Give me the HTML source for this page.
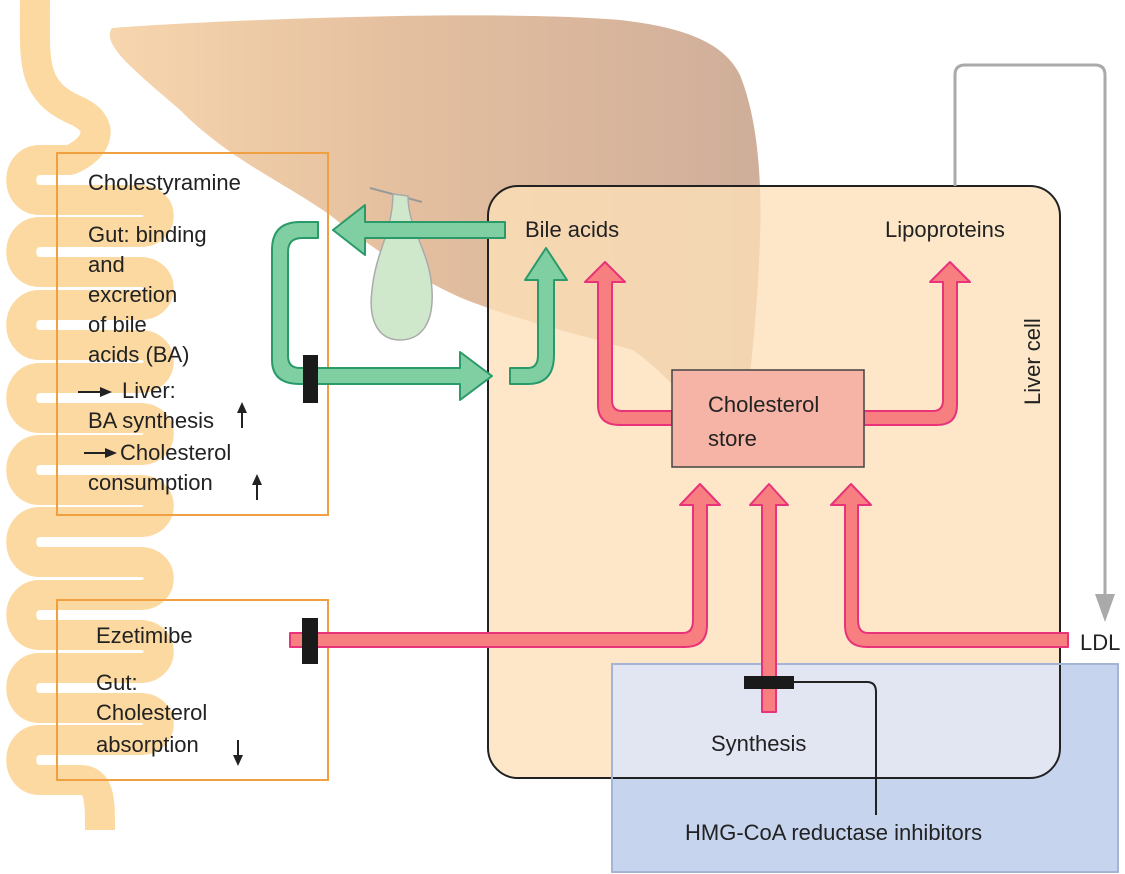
<!DOCTYPE html>
<html><head><meta charset="utf-8"><style>
body{margin:0;background:#fff;}
svg{display:block;font-family:"Liberation Sans",sans-serif;}
text{fill:#222;font-size:22px;}
</style></head><body>
<svg width="1125" height="874" viewBox="0 0 1125 874">
<defs>
<linearGradient id="lg" x1="0" y1="0" x2="1" y2="0">
<stop offset="0" stop-color="#f7d6ae"/><stop offset="0.45" stop-color="#e4bf9f"/><stop offset="1" stop-color="#cfae9a"/>
</linearGradient>
<clipPath id="cc"><rect x="488" y="186" width="572" height="592" rx="30"/></clipPath>
</defs>
<path d="M35,0 C35,60 30,90 75,110 C110,125 95,150 70,160 L40,160 C15,160 15,200 40,200 L140,200 C165,200 165,232 140,232 L40,232 C15,232 15,272 40,272 L140,272 C165,272 165,305 140,305 L40,305 C15,305 15,345 40,345 L140,345 C165,345 165,378 140,378 L40,378 C15,378 15,418 40,418 L140,418 C165,418 165,450 140,450 L40,450 C15,450 15,490 40,490 L140,490 C165,490 165,522 140,522 L40,522 C15,522 15,562 40,562 L140,562 C165,562 165,595 140,595 L40,595 C15,595 15,635 40,635 L140,635 C165,635 165,668 140,668 L40,668 C15,668 15,708 40,708 L140,708 C165,708 165,740 140,740 L40,740 C15,740 15,780 40,780 L80,780 C100,780 100,800 100,830" fill="none" stroke="#fcd9a0" stroke-width="30" stroke-linejoin="round"/>
<path d="M112,28 C250,18 500,10 620,20 C690,28 725,45 740,75 C758,120 762,180 760,240 C758,300 752,360 745,420 L700,420 C680,390 660,370 633,350 C580,335 520,320 480,305 C440,292 380,255 330,215 C280,180 230,160 180,110 C140,75 100,45 112,28 Z" fill="url(#lg)"/>
<rect x="57" y="153" width="271" height="362" fill="none" stroke="#f0a040" stroke-width="2"/>
<rect x="57" y="600" width="271" height="180" fill="none" stroke="#f0a040" stroke-width="2"/>
<rect x="612" y="664" width="506" height="208" fill="#c6d4ed"/>
<rect x="488" y="186" width="572" height="592" rx="30" fill="#fde0b8" fill-opacity="0.78"/>
<rect x="612" y="664" width="506" height="208" fill="#e2e6f2" clip-path="url(#cc)"/>
<rect x="488" y="186" width="572" height="592" rx="30" fill="none" stroke="#222" stroke-width="2"/>
<rect x="612" y="664" width="506" height="208" fill="none" stroke="#a4b4d4" stroke-width="2"/>
<line x1="370" y1="188" x2="422" y2="202" stroke="#999" stroke-width="2"/>
<path d="M393,194 L408,196 C408,230 430,250 432,290 C434,325 420,340 400,340 C378,340 368,320 372,290 C376,250 392,235 393,194 Z" fill="#cfe8cc" stroke="#aaa" stroke-width="1.5"/>
<g fill="#80cfa2" stroke="#2a9a6a" stroke-width="2" stroke-linejoin="round">
<path d="M505,222 L365,222 L365,205 L333,230 L365,255 L365,238 L505,238 Z"/>
<path d="M318,222 L300,222 Q272,222 272,250 L272,360 Q272,384 300,384 L460,384 L460,400 L492,376 L460,352 L460,368 L300,368 Q288,368 288,356 L288,252 Q288,238 302,238 L318,238 Z"/>
<path d="M510,368 L528,368 Q538,368 538,355 L538,280 L525,280 L546,248 L567,280 L554,280 L554,355 Q554,384 528,384 L510,384 Z"/>
</g>
<rect x="303" y="355" width="15" height="48" fill="#1a1a1a"/>
<g fill="#f77f7f" stroke="#e8337a" stroke-width="2" stroke-linejoin="round">
<path d="M672,411 L622,411 Q612,411 612,400 L612,282 L625,282 L605,262 L585,282 L598,282 L598,405 Q598,425 620,425 L672,425 Z"/>
<path d="M864,411 L933,411 Q943,411 943,400 L943,282 L930,282 L950,262 L970,282 L957,282 L957,405 Q957,425 937,425 L864,425 Z"/>
<path d="M290,633 L683,633 Q693,633 693,620 L693,505 L680,505 L700,484 L720,505 L707,505 L707,625 Q707,647 685,647 L290,647 Z"/>
<path d="M762,712 L762,505 L750,505 L769,484 L788,505 L776,505 L776,712 Z"/>
<path d="M1068,633 L868,633 Q858,633 858,620 L858,505 L871,505 L851,484 L831,505 L845,505 L845,625 Q845,647 867,647 L1068,647 Z"/>
</g>
<rect x="302" y="618" width="16" height="46" fill="#1a1a1a"/>
<rect x="744" y="676" width="50" height="13" fill="#1a1a1a"/>
<path d="M794,682 L867,682 Q876,682 876,692 L876,815" fill="none" stroke="#222" stroke-width="2"/>
<rect x="672" y="370" width="192" height="97" fill="#f6b4a6" stroke="#444" stroke-width="1.5"/>
<path d="M955,186 L955,75 Q955,65 965,65 L1095,65 Q1105,65 1105,75 L1105,595" fill="none" stroke="#aaa" stroke-width="3"/>
<path d="M1095,594 L1115,594 L1105,622 Z" fill="#aaa"/>
<text x="88" y="190">Cholestyramine</text>
<text x="88" y="242">Gut: binding</text>
<text x="88" y="272">and</text>
<text x="88" y="302">excretion</text>
<text x="88" y="332">of  bile</text>
<text x="88" y="362">acids (BA)</text>
<path d="M78,392 L103,392" stroke="#222" stroke-width="2"/><path d="M100,387 L112,392 L100,397 Z" fill="#222"/>
<text x="122" y="398">Liver:</text>
<text x="88" y="428">BA synthesis</text>
<path d="M242,428 L242,410" stroke="#222" stroke-width="2"/><path d="M237,413 L242,402 L247,413 Z" fill="#222"/>
<path d="M84,453 L108,453" stroke="#222" stroke-width="2"/><path d="M105,448 L117,453 L105,458 Z" fill="#222"/>
<text x="120" y="460">Cholesterol</text>
<text x="88" y="490">consumption</text>
<path d="M257,500 L257,482" stroke="#222" stroke-width="2"/><path d="M252,485 L257,474 L262,485 Z" fill="#222"/>
<text x="96" y="643">Ezetimibe</text>
<text x="96" y="690">Gut:</text>
<text x="96" y="720">Cholesterol</text>
<text x="96" y="752">absorption</text>
<path d="M238,740 L238,758" stroke="#222" stroke-width="2"/><path d="M233,755 L238,766 L243,755 Z" fill="#222"/>
<text x="525" y="237">Bile acids</text>
<text x="885" y="237">Lipoproteins</text>
<text x="708" y="412">Cholesterol</text>
<text x="708" y="446">store</text>
<text transform="translate(1040,405) rotate(-90)" font-size="19">Liver cell</text>
<text x="1080" y="650">LDL</text>
<text x="711" y="751">Synthesis</text>
<text x="685" y="840">HMG-CoA reductase inhibitors</text>
</svg>
</body></html>
